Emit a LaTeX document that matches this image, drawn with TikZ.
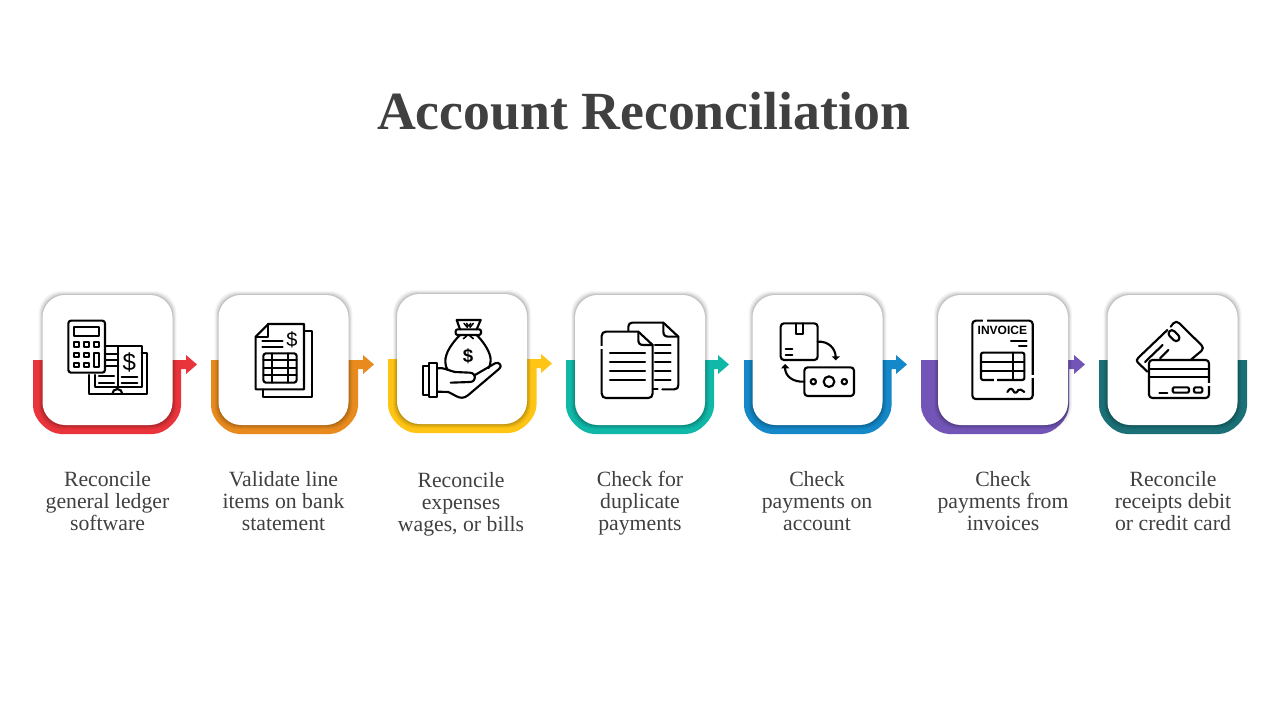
\documentclass[tikz,border=0pt]{standalone}
\usepackage{fontspec}
\setmainfont{Liberation Serif}
\setsansfont{Liberation Sans}
\definecolor{ink}{HTML}{404040}
\definecolor{cred}{HTML}{E8343A}
\definecolor{corange}{HTML}{E88A1E}
\definecolor{cyellow}{HTML}{FFC414}
\definecolor{cteal}{HTML}{10B8A8}
\definecolor{cblue}{HTML}{1488C8}
\definecolor{cpurple}{HTML}{7355B8}
\definecolor{cdark}{HTML}{1A7076}
\tikzset{
  x=.75pt,y=-.75pt,
  cardbox/.style={fill=white,rounded corners=17pt,inner sep=0pt,minimum width=97.5pt,minimum height=97.5pt},
  stepname/.style={text=ink,align=center,anchor=north,font=\fontsize{16.3}{16.5}\selectfont,inner sep=0pt},
  ic/.style={draw=black,line width=1.6pt,line join=round,line cap=round},
  icgap/.style={draw=white,line width=2.4pt},
  icfill/.style={fill=black,draw=none},
}
% #1 colour #2 left #3 right #4 top #5 arrow-base x #6 tip x
\newcommand{\ushape}[6]{%
  \pgfmathsetmacro{\ub}{#4+74}%
  \pgfmathsetmacro{\uc}{#4+46}%
  \pgfmathsetmacro{\ud}{\ub-15}%
  \pgfmathsetmacro{\ue}{#2+15}\pgfmathsetmacro{\uf}{#2+28}%
  \pgfmathsetmacro{\ug}{#3-15}\pgfmathsetmacro{\uh}{#3-28}%
  \pgfmathsetmacro{\ui}{#4+9}\pgfmathsetmacro{\uj}{#4+14}\pgfmathsetmacro{\uk}{#4-5}\pgfmathsetmacro{\ul}{#4+4.5}%
  \fill[#1] (#2,#4) -- (#2,\uc) .. controls (#2,\ud) and (\ue,\ub) .. (\uf,\ub)
    -- (\uh,\ub) .. controls (\ug,\ub) and (#3,\ud) .. (#3,\uc)
    -- (#3,\ui) -- (#5,\ui) -- (#5,\uj) -- (#6,\ul) -- (#5,\uk) -- (#5,#4) -- cycle;}
\newcommand{\ushapeend}[4]{%
  \pgfmathsetmacro{\ub}{#4+74}%
  \pgfmathsetmacro{\uc}{#4+46}%
  \pgfmathsetmacro{\ud}{\ub-15}%
  \pgfmathsetmacro{\ue}{#2+15}\pgfmathsetmacro{\uf}{#2+28}%
  \pgfmathsetmacro{\ug}{#3-15}\pgfmathsetmacro{\uh}{#3-28}%
  \fill[#1] (#2,#4) -- (#2,\uc) .. controls (#2,\ud) and (\ue,\ub) .. (\uf,\ub)
    -- (\uh,\ub) .. controls (\ug,\ub) and (#3,\ud) .. (#3,\uc) -- (#3,#4) -- cycle;}
% #1 name #2 cx #3 cy
\newcommand{\cardat}[3]{%
  \foreach \g/\o in {4/.035,3/.05,2/.07,1/.09}{%
    \fill[black,opacity=\o,rounded corners=17pt] (#2-65-\g,#3-65-\g) rectangle (#2+65+\g,#3+65+\g);}
  \node[cardbox] (#1) at (#2,#3) {};}
\begin{document}
\begin{tikzpicture}
\useasboundingbox (0,0) rectangle (1280,720);
\fill[white] (0,0) rectangle (1280,720);
\node[text=ink,font=\fontsize{40.3}{42}\selectfont\bfseries,inner sep=0pt] (title) at (643.5,111) {Account Reconciliation};

\ushape{cred}{33}{181}{360}{186}{197}
\ushape{corange}{211}{358}{360}{363}{374}
\ushape{cyellow}{388}{536.5}{359}{541}{552}
\ushape{cteal}{566}{714}{360}{718}{729}
\ushape{cblue}{744}{891.5}{360}{896}{907}
\ushape{cpurple}{921}{1069}{360}{1074}{1085}
\ushapeend{cdark}{1099}{1247}{360}

\cardat{c1}{107.5}{360}
\cardat{c2}{283.5}{360}
\cardat{c3}{462}{359}
\cardat{c4}{640}{360}
\cardat{c5}{817.5}{360}
\cardat{c6}{1003}{360}
\cardat{c7}{1172.5}{360}

\node[stepname] (t1) at (107.5,470.6) {\strut Reconcile\\general ledger\\software};
\node[stepname] (t2) at (283.5,470.6) {\strut Validate line\\items on bank\\statement};
\node[stepname] (t3) at (461,472) {\strut Reconcile\\expenses\\wages, or bills};
\node[stepname] (t4) at (640,470.6) {\strut Check for\\duplicate\\payments};
\node[stepname] (t5) at (817,470.6) {\strut Check\\payments on\\account};
\node[stepname] (t6) at (1003,470.6) {\strut Check\\payments from\\invoices};
\node[stepname] (t7) at (1173,470.6) {\strut Reconcile\\receipts debit\\or credit card};

% icons 1 and 2 in zoom coordinates
\begin{scope}[shift={(20,280)},x=.25pt,y=-.25pt]
  % book
  \draw[ic] (225,285) -- (225,322) -- (295,322) -- (295,198) -- (365,198) -- (365,322) -- (295,322);
  \draw[ic] (258,198) -- (295,198);
  \draw[ic] (207,285) -- (207,342) -- (382,342) -- (382,218) -- (365,218);
  \draw[ic] (277,342) arc[start angle=180,end angle=360,radius=15];
  \foreach \yy in {222,240,258} \draw[ic] (258,\yy) -- (295,\yy);
  \foreach \yy in {288,308} \draw[ic] (237,\yy) -- (282,\yy);
  \foreach \yy in {290,310} \draw[ic] (305,\yy) -- (352,\yy);
  \node[inner sep=0pt,font=\sffamily\fontsize{18}{18}\selectfont] (d1) at (328,248) {\$};
  % calculator
  \draw[ic,rounded corners=2pt] (145,122) rectangle (255,278);
  \draw[ic] (162,140) rectangle (238,168);
  \foreach \xx in {162,192,222} \draw[ic] (\xx,186) rectangle (\xx+15,200);
  \foreach \xx in {162,192} {\draw[ic] (\xx,218) rectangle (\xx+15,232);
    \draw[ic] (\xx,248) rectangle (\xx+15,262);}
  \draw[ic] (222,218) rectangle (238,262);
  % statement
  \draw[ic] (852,153) -- (875,153) -- (875,350) -- (730,350) -- (730,328);
  \draw[ic] (745,132) -- (852,132) -- (852,328) -- (707,328) -- (707,170) -- cycle;
  \draw[ic] (745,132) -- (745,170) -- (707,170);
  \draw[ic] (727,184) -- (788,184) (727,202) -- (788,202);
  \node[inner sep=0pt,font=\sffamily\fontsize{15}{15}\selectfont] (d2) at (816,178) {\$};
  \draw[ic,rounded corners=2pt] (730,220) rectangle (830,308);
  \draw[ic] (730,240) -- (830,240) (730,263) -- (830,263) (730,286) -- (830,286);
  \draw[ic] (755,220) -- (755,308) (805,220) -- (805,308);
\end{scope}

% icons 3 and 4
\begin{scope}[shift={(380,280)},x=.25pt,y=-.25pt]
  % bag
  \draw[ic] (240,148) -- (230,120) -- (302,120) -- (290,148);
  \draw[ic,rounded corners=1.5pt] (227,148) rectangle (303,165);
  \draw[ic,line width=1.1pt] (252,130) -- (262,142) (280,130) -- (270,142) (260,130) -- (265,138) (272,130) -- (267,138);
  \draw[ic,line width=1.2pt] (250,176) -- (260,168) (280,176) -- (270,168);
  \draw[ic] (240,165) .. controls (215,190) and (195,220) .. (196,245) .. controls (196,255) and (198,262) .. (203,270);
  \draw[ic] (290,165) .. controls (315,190) and (332,220) .. (332,240) .. controls (332,250) and (330,256) .. (326,264);
  \node[inner sep=0pt,font=\sffamily\bfseries\fontsize{14}{14}\selectfont] (d3) at (264,230) {\$};
  % hand
  \draw[ic] (147,258) -- (128,258) -- (128,345) -- (147,345);
  \draw[ic] (147,250) rectangle (172,352);
  \draw[ic] (172,265) .. controls (195,262) and (205,272) .. (225,276) -- (270,278) .. controls (290,280) and (290,305) .. (270,306) -- (212,308);
  \draw[ic] (285,285) -- (345,250) .. controls (358,244) and (368,258) .. (358,266) -- (265,345) .. controls (252,356) and (240,355) .. (228,348) -- (205,336) -- (172,335);
  % back document
  \draw[ic] (745,155) -- (745,140) .. controls (745,132) and (750,128) .. (757,128) -- (850,128) -- (895,170) -- (895,315) .. controls (895,323) and (892,328) .. (883,328) -- (847,328);
  \draw[ic] (820,328) -- (833,328);
  \draw[ic] (850,128) -- (850,155) .. controls (850,165) and (855,170) .. (865,170) -- (895,170);
  \foreach \yy in {195,220,247,274,300} \draw[ic] (825,\yy) -- (872,\yy);
  % front document
  \draw[ic,fill=white] (775,155) -- (678,155) .. controls (670,155) and (665,160) .. (665,168) -- (665,340) .. controls (665,349) and (670,354) .. (678,354) -- (805,354) .. controls (813,354) and (818,349) .. (818,340) -- (818,195) -- cycle;
  \draw[ic] (775,155) -- (775,180) .. controls (775,190) and (780,195) .. (790,195) -- (818,195);
  \draw[icgap] (665,197) -- (665,207);
  \foreach \yy in {220,247,274,300} \draw[ic] (690,\yy) -- (795,\yy);
\end{scope}

% icons 5 and 6
\begin{scope}[shift={(735,280)},x=.25pt,y=-.25pt]
  \draw[ic,rounded corners=2.5pt] (137,130) rectangle (248,240);
  \draw[ic] (182,130) -- (182,163) -- (205,163) -- (205,130);
  \draw[ic] (152,208) -- (172,208) (152,224) -- (172,224);
  \draw[ic] (248,185) .. controls (280,183) and (302,205) .. (302,232);
  \fill[icfill] (290,229) -- (315,229) -- (302,241) -- cycle;
  \draw[ic,rounded corners=2.5pt] (208,262) rectangle (357,348);
  \draw[ic] (282,305) circle[radius=16];
  \draw[ic] (235,305) circle[radius=8];
  \draw[ic] (328,305) circle[radius=8];
  \draw[ic] (208,305) .. controls (175,307) and (150,290) .. (150,262);
  \fill[icfill] (138,265) -- (163,265) -- (150,252) -- cycle;
  % invoice
  \draw[ic,rounded corners=2.5pt] (712,122) rectangle (893,357);
  \draw[icgap] (745,122) -- (755,122) (893,284) -- (893,294);
  \node[inner sep=0pt,font=\sffamily\bfseries\fontsize{9}{9}\selectfont] (inv) at (802,152) {INVOICE};
  \draw[ic] (828,183) -- (875,183) (852,199) -- (875,199);
  \draw[ic,rounded corners=1.5pt] (738,218) rectangle (868,300);
  \draw[icgap] (778,300) -- (786,300);
  \draw[ic] (738,245) -- (868,245) (738,272) -- (868,272) (835,218) -- (835,300);
  \draw[ic] (817,336) .. controls (825,322) and (832,325) .. (835,333) .. controls (840,342) and (846,338) .. (850,330) .. controls (855,324) and (860,332) .. (868,336);
\end{scope}

% icon 7
\begin{scope}[shift={(1060,280)},x=.25pt,y=-.25pt]
  \draw[ic] (322,150) -- (235,233) .. controls (229,239) and (229,243) .. (233,247) -- (262,275);
  \draw[ic] (332,140) -- (340,130) .. controls (346,124) and (352,124) .. (358,130) -- (424,195) .. controls (430,201) and (430,207) .. (424,213) -- (394,238);
  \draw[ic,rotate around={-45:(342,167)},rounded corners=2.5pt] (323,157) rectangle (361,177);
  \draw[ic] (255,246) -- (308,195) (300,235) -- (325,210);
  \draw[ic,rounded corners=2.5pt] (267,240) rectangle (447,354);
  \draw[icgap] (447,308) -- (447,318);
  \draw[ic] (267,268) -- (447,268) (267,290) -- (447,290);
  \draw[ic] (298,338) -- (322,338);
  \draw[ic,rounded corners=1pt] (338,322) rectangle (387,338);
  \draw[ic,rounded corners=1pt] (402,322) rectangle (427,338);
\end{scope}
\end{tikzpicture}
\end{document}
